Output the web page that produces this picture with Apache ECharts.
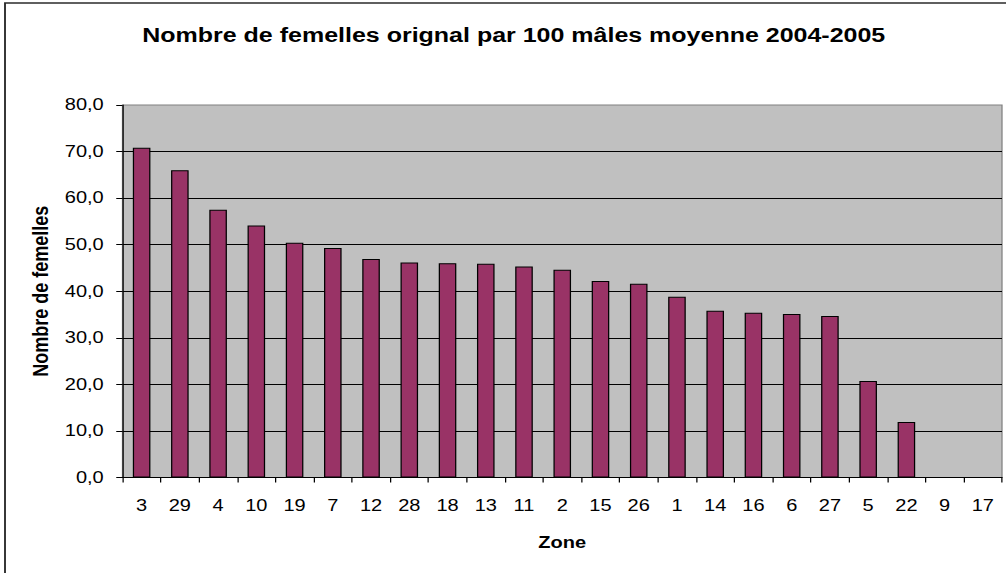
<!DOCTYPE html>
<html>
<head>
<meta charset="utf-8">
<title>Nombre de femelles orignal par 100 mâles</title>
<script src="https://cdn.jsdelivr.net/npm/echarts@6/dist/echarts.min.js"></script>
<style>
  html, body { margin: 0; padding: 0; background: #fff; overflow: hidden; }
  #wrap { width: 1006px; height: 573px; overflow: hidden; }
  /* the chart is laid out narrow and widened horizontally */
  #chart { width: 805px; height: 573px; transform: scaleX(1.25); transform-origin: 0 0; }
</style>
</head>
<body>
<div id="wrap"><div id="chart"></div></div>
<script>
const titleText = 'Nombre de femelles orignal par 100 mâles moyenne 2004-2005';
const zones = ['3', '29', '4', '10', '19', '7', '12', '28', '18', '13', '11', '2',
               '15', '26', '1', '14', '16', '6', '27', '5', '22', '9', '17'];
const femelles = [70.8, 66.0, 57.5, 54.1, 50.4, 49.3, 46.9, 46.2, 46.0, 45.9, 45.3, 44.6,
                  42.2, 41.6, 38.8, 35.8, 35.4, 35.1, 34.7, 20.7, 11.9, 0, 0];
const yMin = 0, yMax = 80, yStep = 10;

const font = '"Liberation Sans", Arial, sans-serif';
const chart = echarts.init(document.getElementById('chart'), null, { renderer: 'svg' });

chart.setOption({
  animation: false,
  backgroundColor: '#ffffff',
  graphic: [
    {
      type: 'rect', silent: true, z: -10,
      shape: { x: 4, y: 3, width: 2000, height: 2000 },
      style: { fill: 'none', stroke: '#2b2b2b', lineWidth: 1.5 }
    },
    {
      type: 'text', silent: true,
      x: 411, y: 35,
      style: {
        text: titleText, align: 'center', verticalAlign: 'middle',
        font: 'bold 20px ' + font, fill: '#000'
      }
    }
  ],
  grid: {
    left: 98, right: 3.4, top: 105, bottom: 95.5,
    show: true, backgroundColor: '#c0c0c0', borderColor: '#808080', borderWidth: 1
  },
  xAxis: {
    type: 'category',
    data: zones,
    name: 'Zone',
    nameLocation: 'middle',
    nameGap: 57,
    nameTextStyle: { fontFamily: font, fontWeight: 'bold', fontSize: 16, color: '#000' },
    axisLine: { lineStyle: { color: '#000', width: 1 } },
    axisTick: { show: true, length: 5, alignWithLabel: false, lineStyle: { color: '#000' } },
    axisLabel: { fontFamily: font, fontSize: 16, color: '#000', margin: 20, interval: 0 },
    splitLine: { show: false }
  },
  yAxis: {
    type: 'value',
    min: yMin, max: yMax, interval: yStep,
    name: 'Nombre de femelles',
    nameLocation: 'middle',
    nameGap: 56,
    nameTextStyle: { fontFamily: font, fontWeight: 'bold', fontSize: 18, color: '#000' },
    axisLine: { show: true, lineStyle: { color: '#000', width: 1 } },
    axisTick: { show: true, length: 5, lineStyle: { color: '#000' } },
    axisLabel: {
      fontFamily: font, fontSize: 16, color: '#000', margin: 15,
      formatter: v => v.toFixed(1).replace('.', ',')
    },
    splitLine: { show: true, showMaxLine: false, lineStyle: { color: '#000', width: 1 } }
  },
  series: [{
    type: 'bar',
    data: femelles,
    barWidth: '46%',
    itemStyle: { color: '#993366', borderColor: '#000', borderWidth: 1 }
  }]
});
</script>
</body>
</html>
